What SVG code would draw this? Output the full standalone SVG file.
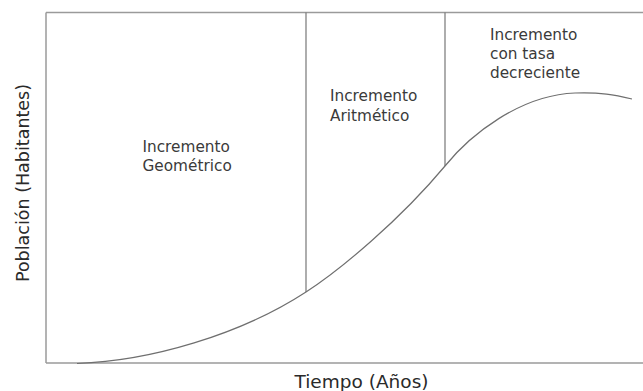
<svg xmlns="http://www.w3.org/2000/svg" width="643" height="391" viewBox="0 0 643 391">
  <style>
    .frame { stroke: #9a9a9a; stroke-width: 1.5; fill: none; }
    .div { stroke: #777; stroke-width: 1.2; fill: none; }
    .curve { stroke: #6f6f6f; stroke-width: 1.2; fill: none; }
    .lbl { font-family: "DejaVu Sans", Verdana, sans-serif; font-size: 15.3px; fill: #3a3a3a; }
    .axis { font-family: "DejaVu Sans", Verdana, sans-serif; font-size: 17.5px; fill: #2a2a2a; }
  </style>
  <rect width="643" height="391" fill="#ffffff"/>
  <g id="axes">
    <line class="frame" x1="46" y1="12.5" x2="643" y2="12.5"/>
    <line class="frame" x1="46" y1="12.5" x2="46" y2="363"/>
    <line class="frame" x1="46" y1="363" x2="643" y2="363"/>
  </g>
  <g id="connectors">
    <line class="div" x1="306" y1="12.5" x2="306" y2="292"/>
    <line class="div" x1="445" y1="12.5" x2="445" y2="166"/>
    <path class="curve" d="M77,363.5 C150,361 240,335 306,292 C340,270 400,220 445,166 C470,135 520,95 575,93 C600,92 615,95 632,99"/>
  </g>
  <g id="geometrico">
    <text class="lbl" x="142.5" y="151.7">Incremento</text>
    <text class="lbl" x="142.5" y="170.7">Geométrico</text>
  </g>
  <g id="aritmetico">
    <text class="lbl" x="330" y="101">Incremento</text>
    <text class="lbl" x="330" y="120.7">Aritmético</text>
  </g>
  <g id="decreciente">
    <text class="lbl" x="490" y="40">Incremento</text>
    <text class="lbl" x="490" y="59.3">con tasa</text>
    <text class="lbl" x="490" y="78.3">decreciente</text>
  </g>
  <g id="x-label">
    <text class="axis" x="361.5" y="388.3" text-anchor="middle" style="font-size:18.5px">Tiempo (Años)</text>
  </g>
  <g id="y-label">
    <text class="axis" transform="translate(28.5,183) rotate(-90)" text-anchor="middle">Población (Habitantes)</text>
  </g>
</svg>
